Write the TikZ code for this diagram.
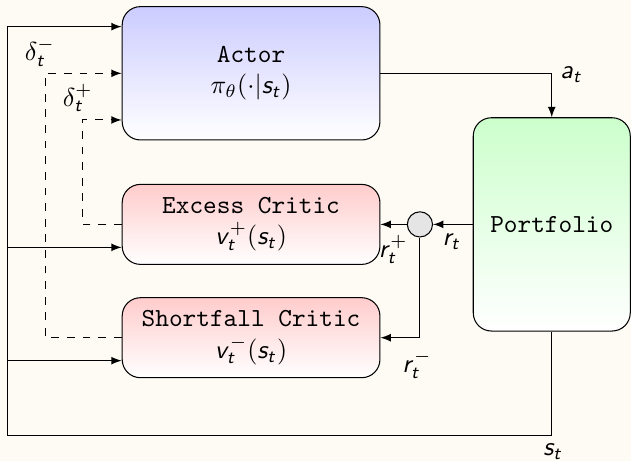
\documentclass[tikz,border=0pt]{standalone}
\usetikzlibrary{calc}

% sans italic letters in math, greek stays roman
\DeclareSymbolFont{sfletters}{OT1}{cmss}{m}{sl}
\DeclareMathSymbol{a}{\mathalpha}{sfletters}{`a}
\DeclareMathSymbol{r}{\mathalpha}{sfletters}{`r}
\DeclareMathSymbol{s}{\mathalpha}{sfletters}{`s}
\DeclareMathSymbol{t}{\mathalpha}{sfletters}{`t}
\DeclareMathSymbol{v}{\mathalpha}{sfletters}{`v}

\definecolor{paper}{RGB}{254,251,245}

\tikzset{
	block/.style = {draw, rounded corners = 7pt, align = center, font = \ttfamily},
	actorblock/.style = {block, top color = blue!20, bottom color = white, minimum width = 3.48cm, minimum height = 1.8cm},
	criticblock/.style = {block, top color = red!20, bottom color = white, minimum width = 3.48cm, minimum height = 1.08cm},
	envblock/.style = {block, top color = green!20, bottom color = white, minimum width = 2.12cm, minimum height = 2.88cm},
	junction/.style = {draw, circle, fill = gray!20, minimum size = 0.34cm, inner sep = 0pt}
}

\begin{document}
\begin{tikzpicture}[> = latex]

	% Background

	\fill [paper] (0, 0) rectangle (8.52, 6.22);
	\useasboundingbox (0, 0) rectangle (8.52, 6.22);

	% Blocks

	\node [actorblock] (actor) at (3.39, 5.23) {Actor\\$\pi_\theta(\cdot|s_t)$};
	\node [criticblock] (excess) at (3.39, 3.19) {Excess Critic\\$v_t^+(s_t)$};
	\node [criticblock] (shortfall) at (3.39, 1.66) {Shortfall Critic\\$v_t^-(s_t)$};
	\node [envblock] (portfolio) at (7.45, 3.19) {Portfolio};
	\node [junction] (split) at (5.67, 3.19) {};

	% Action

	\draw [->] (actor.east) -| (portfolio.north);
	\node (action) at (7.72, 5.21) {$a_t$};

	% Reward split

	\draw [->] (portfolio.west) -- (split);
	\draw [->] (split) -- (excess.east);
	\draw [->] (split) |- (shortfall.east);
	\node (reward) at (6.10, 2.96) {$r_t$};
	\node (rplus) at (5.31, 2.85) {$r_t^+$};
	\node (rminus) at (5.63, 1.30) {$r_t^-$};

	% State feedback

	\coordinate (corner) at (0.10, 0.34);
	\coordinate (actorin) at ([yshift = 0.63cm]actor.west);
	\coordinate (excessin) at ([yshift = -0.31cm]excess.west);
	\coordinate (shortfallin) at ([yshift = -0.31cm]shortfall.west);

	\draw [->] (portfolio.south) |- (corner) |- (actorin);
	\draw [->] (corner |- excessin) -- (excessin);
	\draw [->] (corner |- shortfallin) -- (shortfallin);
	\node (state) at (7.47, 0.12) {$s_t$};

	% Critic signals

	\draw [->, dashed] (shortfall.west) -| ([xshift = -1.03cm]actor.west) -- (actor.west);
	\draw [->, dashed] (excess.west) -| ([xshift = -0.53cm, yshift = -0.63cm]actor.west) -- ([yshift = -0.63cm]actor.west);
	\node (dminus) at (0.54, 5.51) {$\delta_t^-$};
	\node (dplus) at (1.05, 4.90) {$\delta_t^+$};

\end{tikzpicture}
\end{document}
